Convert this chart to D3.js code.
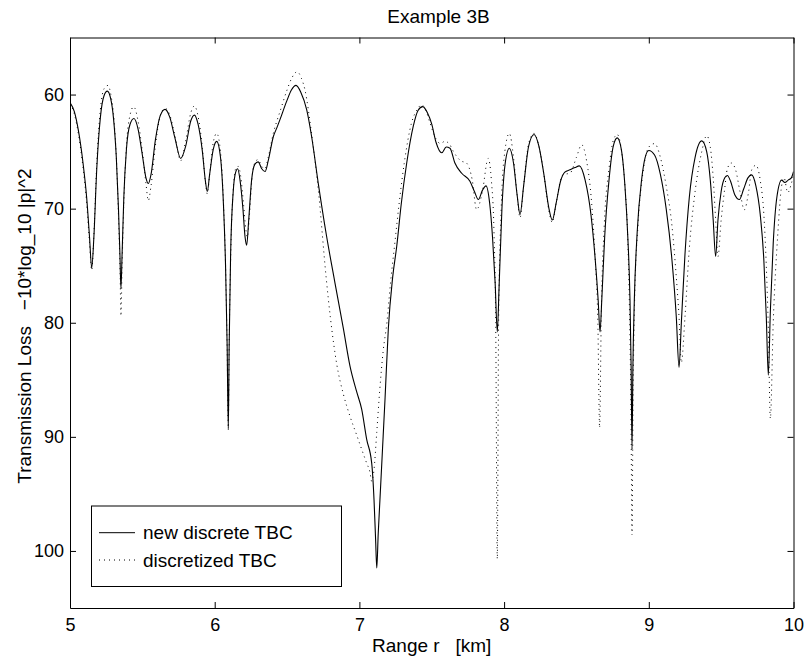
<!DOCTYPE html>
<html>
<head>
<meta charset="utf-8">
<script src="https://cdn.jsdelivr.net/npm/d3@7"></script>
<style>
  body { margin: 0; background: #fff; }
  text { font-family: "Liberation Sans", Arial, sans-serif; }
</style>
</head>
<body>
<script>
// solid curve: new discrete TBC
var newR = [5.000,5.030,5.060,5.090,5.115,5.135,5.150,5.165,5.185,5.210,5.235,5.258,5.280,5.300,5.320,5.335,5.345,5.352,5.360,5.372,5.390,5.415,5.442,5.470,5.500,5.525,5.541,5.560,5.590,5.625,5.657,5.690,5.725,5.765,5.800,5.835,5.860,5.885,5.915,5.935,5.949,5.965,5.990,6.014,6.040,6.060,6.075,6.086,6.094,6.100,6.110,6.128,6.145,6.159,6.175,6.195,6.210,6.221,6.235,6.255,6.278,6.300,6.325,6.348,6.370,6.405,6.430,6.451,6.497,6.530,6.562,6.595,6.636,6.670,6.716,6.773,6.831,6.889,6.935,6.980,7.016,7.050,7.085,7.101,7.112,7.120,7.130,7.142,7.160,7.177,7.200,7.230,7.258,7.290,7.327,7.372,7.405,7.437,7.470,7.500,7.530,7.569,7.600,7.626,7.660,7.707,7.764,7.795,7.822,7.850,7.875,7.900,7.920,7.938,7.953,7.965,7.985,8.010,8.036,8.065,8.090,8.110,8.135,8.170,8.207,8.240,8.275,8.310,8.333,8.360,8.390,8.420,8.455,8.490,8.520,8.560,8.600,8.630,8.650,8.663,8.675,8.695,8.725,8.755,8.782,8.810,8.835,8.855,8.870,8.878,8.884,8.890,8.900,8.920,8.950,8.975,9.000,9.040,9.080,9.120,9.160,9.190,9.209,9.225,9.250,9.280,9.320,9.366,9.400,9.425,9.445,9.462,9.478,9.500,9.525,9.543,9.565,9.595,9.626,9.655,9.685,9.711,9.740,9.770,9.795,9.812,9.826,9.840,9.860,9.885,9.918,9.940,9.963,9.985,10.000];
var newTL = [60.7,61.5,63.3,66.0,69.0,72.5,75.2,72.5,66.5,62.0,60.1,59.7,60.3,62.0,65.5,70.0,74.0,77.0,74.0,69.0,64.8,62.6,62.1,63.0,65.3,67.3,67.8,67.0,64.0,61.8,61.3,62.0,63.8,65.6,64.5,62.3,61.8,62.6,65.0,67.5,68.5,67.0,64.8,64.1,65.5,69.5,75.0,82.0,89.3,82.0,74.0,68.5,66.8,66.5,67.5,70.0,72.5,73.2,71.0,67.5,66.1,65.9,66.5,66.75,65.8,63.7,62.9,62.2,60.6,59.6,59.2,59.8,61.35,63.7,67.8,72.4,76.5,80.5,83.8,86.0,87.6,90.2,92.3,95.5,99.0,101.5,98.5,95.5,91.0,86.7,80.5,76.0,73.3,69.5,66.0,62.8,61.4,61.06,61.6,62.6,64.2,65.1,64.6,64.7,66.0,66.9,67.6,68.5,69.2,68.4,68.0,69.5,72.5,76.5,80.8,77.0,70.0,65.8,64.7,66.0,68.8,70.5,68.0,64.5,63.5,64.5,67.0,70.0,71.0,69.5,67.6,66.8,66.6,66.4,66.25,67.5,70.5,74.5,78.0,80.8,78.0,72.5,67.5,64.5,63.8,64.8,68.0,72.5,78.0,84.0,91.1,84.0,78.0,72.0,67.5,65.5,64.9,65.3,67.0,70.0,74.5,79.5,83.9,80.0,74.0,69.0,65.5,64.06,65.0,67.5,71.0,74.2,71.0,68.5,67.3,67.1,67.6,68.8,69.2,68.3,67.3,67.04,68.0,70.5,74.5,79.5,84.6,79.0,73.0,69.0,67.5,67.7,67.5,67.3,66.75];

// dotted curve: discretized TBC
var discR = [5.000,5.030,5.060,5.090,5.115,5.135,5.150,5.165,5.185,5.210,5.235,5.262,5.285,5.305,5.322,5.336,5.346,5.352,5.360,5.372,5.390,5.415,5.440,5.470,5.500,5.525,5.541,5.560,5.590,5.625,5.657,5.690,5.725,5.765,5.800,5.835,5.860,5.885,5.915,5.935,5.949,5.965,5.990,6.014,6.040,6.060,6.075,6.086,6.094,6.100,6.112,6.130,6.148,6.163,6.180,6.200,6.215,6.226,6.240,6.258,6.280,6.300,6.325,6.348,6.370,6.405,6.430,6.451,6.497,6.535,6.570,6.600,6.624,6.670,6.716,6.770,6.800,6.843,6.890,6.935,6.980,7.016,7.050,7.073,7.085,7.100,7.120,7.140,7.165,7.190,7.215,7.245,7.275,7.310,7.360,7.400,7.430,7.460,7.488,7.530,7.560,7.590,7.620,7.650,7.700,7.740,7.780,7.810,7.850,7.890,7.912,7.930,7.942,7.953,7.962,7.980,8.005,8.036,8.065,8.090,8.110,8.135,8.170,8.207,8.240,8.275,8.310,8.333,8.360,8.390,8.410,8.455,8.500,8.536,8.570,8.605,8.630,8.648,8.660,8.672,8.692,8.725,8.755,8.782,8.810,8.835,8.855,8.868,8.877,8.884,8.891,8.902,8.925,8.960,9.000,9.040,9.080,9.120,9.160,9.190,9.209,9.225,9.250,9.280,9.320,9.366,9.400,9.425,9.445,9.462,9.478,9.500,9.525,9.543,9.570,9.600,9.630,9.660,9.690,9.711,9.740,9.770,9.795,9.812,9.826,9.840,9.860,9.890,9.918,9.935,9.960,9.985,10.000];
var discTL = [60.8,61.7,63.6,66.4,69.5,73.0,75.4,72.3,66.0,61.3,59.5,59.2,60.2,62.3,66.0,71.0,75.5,79.4,75.0,69.5,64.5,61.8,61.06,62.3,65.0,67.8,69.3,68.0,64.5,61.8,61.2,61.8,63.6,65.8,64.0,61.6,61.0,61.9,64.7,67.6,68.7,67.0,64.2,63.4,65.0,69.3,75.0,82.3,89.4,82.0,73.5,68.0,66.4,66.3,67.2,69.7,71.8,72.5,70.6,67.3,65.9,65.7,66.3,66.5,65.5,63.4,62.3,61.5,59.7,58.5,58.0,58.6,59.6,63.5,68.35,76.0,79.6,83.6,86.3,88.2,89.8,91.1,92.3,93.1,93.9,93.0,89.6,86.0,82.4,80.0,76.5,73.0,69.5,66.0,62.5,61.3,60.9,61.4,62.5,63.9,64.3,64.1,64.3,65.0,65.8,66.0,67.5,70.1,68.5,65.6,67.5,72.0,80.0,100.7,80.0,70.0,65.0,63.4,65.5,68.8,70.8,68.0,64.3,63.4,64.5,67.0,70.2,71.2,69.5,67.5,67.0,66.9,65.5,64.4,65.8,69.5,74.5,80.0,89.2,79.0,71.5,66.5,64.0,63.5,64.8,68.0,72.8,80.0,88.0,98.6,87.0,78.0,71.5,66.8,64.6,64.3,65.5,68.0,71.5,76.0,79.5,83.5,79.5,73.5,68.5,65.0,63.6,64.6,67.3,71.0,74.2,71.0,68.2,66.5,66.0,66.6,68.5,70.1,68.5,66.6,66.2,67.5,70.5,75.0,80.5,88.4,80.0,72.5,68.0,67.3,68.6,67.8,67.0,66.5];

var xTicks = [5, 6, 7, 8, 9, 10];
var yTicks = [60, 70, 80, 90, 100];
var legendLabels = ["new discrete TBC", "discretized TBC"];

var pLeft = 70, pRight = 793.5, pTop = 37.5, pBottom = 608;

var x = d3.scaleLinear().domain([5, 10]).range([pLeft, pRight]);
var y = d3.scaleLinear().domain([55, 105]).range([pTop, pBottom]);

var svg = d3.select("body").append("svg")
    .attr("width", 808)
    .attr("height", 657);

svg.append("defs").append("clipPath")
    .attr("id", "plotclip")
  .append("rect")
    .attr("x", pLeft).attr("y", pTop)
    .attr("width", pRight - pLeft).attr("height", pBottom - pTop);

var line = d3.line()
    .x(function(d) { return x(d[0]); })
    .y(function(d) { return y(d[1]); })
    .curve(d3.curveMonotoneX);

var newData = newR.map(function(r, i) { return [r, newTL[i]]; });
var discData = discR.map(function(r, i) { return [r, discTL[i]]; });

var plot = svg.append("g").attr("clip-path", "url(#plotclip)");

plot.append("path")
    .datum(discData)
    .attr("fill", "none")
    .attr("stroke", "#000")
    .attr("stroke-width", 1)
    .attr("stroke-dasharray", "1,4")
    .attr("d", line);

plot.append("path")
    .datum(newData)
    .attr("fill", "none")
    .attr("stroke", "#000")
    .attr("stroke-width", 1.1)
    .attr("d", line);

// axes, ticks pointing inward on all four sides
var fs = "18px", fsLabel = "19px";
var fmt = function(d) { return d; };

svg.append("g")
    .attr("transform", "translate(0," + pBottom + ")")
    .call(d3.axisBottom(x).tickValues(xTicks).tickFormat(fmt).tickSizeInner(-6).tickSizeOuter(0).tickPadding(10))
    .call(function(g) { g.selectAll("text").attr("font-size", fs).attr("fill", "#000"); });

svg.append("g")
    .attr("transform", "translate(0," + pTop + ")")
    .call(d3.axisTop(x).tickValues(xTicks).tickSizeInner(-6).tickSizeOuter(0).tickFormat(""));

svg.append("g")
    .attr("transform", "translate(" + pLeft + ",0)")
    .call(d3.axisLeft(y).tickValues(yTicks).tickFormat(fmt).tickSizeInner(-6).tickSizeOuter(0).tickPadding(6))
    .call(function(g) { g.selectAll("text").attr("font-size", fs).attr("fill", "#000"); });

svg.append("g")
    .attr("transform", "translate(" + pRight + ",0)")
    .call(d3.axisRight(y).tickValues(yTicks).tickSizeInner(-6).tickSizeOuter(0).tickFormat(""));

svg.selectAll(".domain, .tick line").attr("stroke", "#000");

// title and axis labels
svg.append("text")
    .attr("x", 438.5)
    .attr("y", 23)
    .attr("text-anchor", "middle")
    .attr("font-size", fsLabel)
    .text("Example 3B");

svg.append("text")
    .attr("x", (pLeft + pRight) / 2)
    .attr("y", 652)
    .attr("text-anchor", "middle")
    .attr("font-size", fsLabel)
    .style("white-space", "pre")
    .text("Range r   [km]");

svg.append("text")
    .attr("transform", "translate(31,326) rotate(-90)")
    .attr("text-anchor", "middle")
    .attr("font-size", fsLabel)
    .style("white-space", "pre")
    .text("Transmission Loss   \u221210*log_10 |p|^2");

// legend
var lg = svg.append("g");
lg.append("rect")
    .attr("x", 91.5).attr("y", 506)
    .attr("width", 250).attr("height", 80.5)
    .attr("fill", "#fff")
    .attr("stroke", "#000")
    .attr("stroke-width", 1);

var legendY = [532.7, 560];
legendLabels.forEach(function(lbl, i) {
  lg.append("line")
      .attr("x1", 99).attr("x2", 135)
      .attr("y1", legendY[i]).attr("y2", legendY[i])
      .attr("stroke", "#000")
      .attr("stroke-width", 1)
      .attr("stroke-dasharray", i == 1 ? "1,4" : null);
  lg.append("text")
      .attr("x", 143)
      .attr("y", legendY[i])
      .attr("dy", "0.35em")
      .attr("font-size", fsLabel)
      .text(lbl);
});
</script>
</body>
</html>
